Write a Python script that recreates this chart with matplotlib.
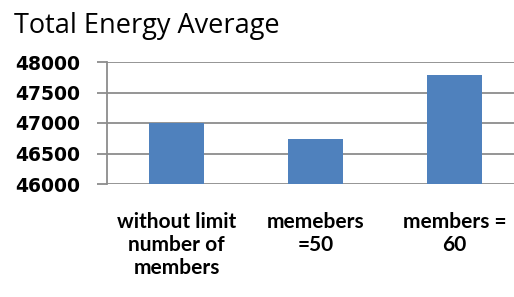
import matplotlib
matplotlib.use("Agg")
import matplotlib.pyplot as plt

categories = ["without limit\nnumber of\nmembers", "memebers\n=50", "members =\n60"]
values = [47000, 46740, 47780]
yticks = [46000, 46500, 47000, 47500, 48000]
title = "Total Energy Average"

fig = plt.figure(figsize=(5.14, 2.97), dpi=100)
ax = fig.add_axes([107/514, (297-184)/297, (524-107)/514, (184-62)/297])
x = list(range(len(categories)))
ax.bar(x, values, width=0.4, color="#4F81BD", zorder=3)
ax.set_ylim(46000, 48000)
ax.set_xlim(-0.5, 2.5)
ax.set_yticks(yticks)
ax.set_yticklabels([str(v) for v in yticks], fontsize=13.5, fontweight="bold",
                   family="DejaVu Sans")
ax.set_xticks(x)
ax.set_xticklabels(categories, fontsize=15, fontweight="bold", family="Lato",
                   linespacing=1.2, va="top")
ax.tick_params(axis="x", length=0, pad=20)
ax.tick_params(axis="y", length=7.2, color="#8c8c8c", width=1.3, pad=12)
ax.grid(axis="y", color="#8c8c8c", linewidth=1.3, zorder=0)
for s in ["top", "right", "bottom"]:
    ax.spines[s].set_visible(False)
ax.spines["left"].set_color("#8c8c8c")
ax.spines["left"].set_linewidth(1.3)
fig.text(14/514, 1 - 33/297, title, fontsize=19.5, family="Open Sans",
         va="baseline", ha="left")
fig.savefig("out.png", dpi=100)
